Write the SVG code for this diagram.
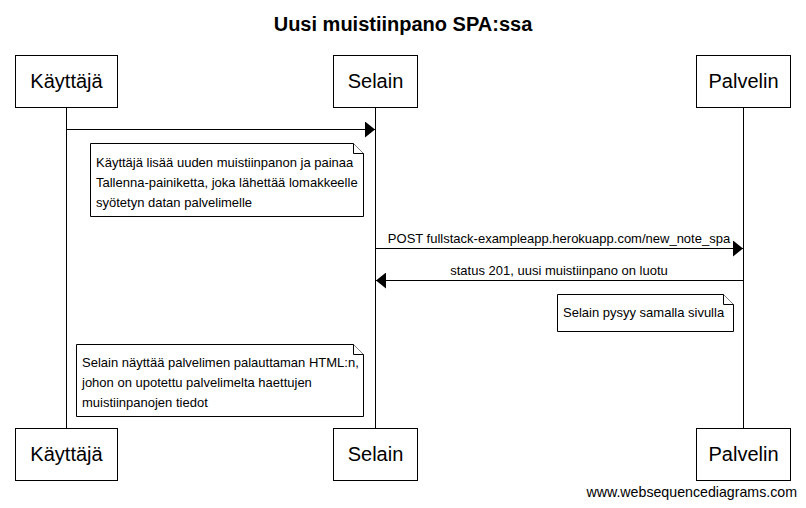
<svg xmlns="http://www.w3.org/2000/svg" width="806" height="508" viewBox="0 0 806 508">
<defs>
<style>
.box{fill:#fff;stroke:#000;stroke-width:1}
.life{stroke:#000;stroke-width:1}
.pt{font-family:"Liberation Sans",Arial,sans-serif;font-size:20px;fill:#000;text-anchor:middle}
.t{font-family:"Liberation Sans",Arial,sans-serif;font-size:13px;fill:#000}
.msg{stroke:#000;stroke-width:1;fill:none}
.note{fill:#fff;stroke:#000;stroke-width:1}
</style>
<marker id="ah" viewBox="0 0 10 16" refX="10" refY="8" markerWidth="10" markerHeight="16" markerUnits="userSpaceOnUse" orient="auto">
<path d="M0,0 L10,8 L0,16 Z" fill="#000"/>
</marker>
</defs>
<rect width="806" height="508" fill="#fff"/>
<text x="403" y="31" font-family="Liberation Sans,Arial,sans-serif" font-size="20" font-weight="bold" text-anchor="middle">Uusi muistiinpano SPA:ssa</text>
<g id="lifelines">
<line class="life" x1="66.5" y1="107" x2="66.5" y2="428"/>
<line class="life" x1="375.5" y1="107" x2="375.5" y2="428"/>
<line class="life" x1="743.5" y1="107" x2="743.5" y2="428"/>
</g>
<g id="kayttaja">
<rect class="box" x="15.5" y="55.5" width="102" height="52"/>
<text class="pt" x="66.5" y="88">Käyttäjä</text>
<rect class="box" x="15.5" y="428.5" width="102" height="52"/>
<text class="pt" x="66.5" y="461">Käyttäjä</text>
</g>
<g id="selain">
<rect class="box" x="333.5" y="55.5" width="84" height="52"/>
<text class="pt" x="375.5" y="88">Selain</text>
<rect class="box" x="333.5" y="428.5" width="84" height="52"/>
<text class="pt" x="375.5" y="461">Selain</text>
</g>
<g id="palvelin">
<rect class="box" x="696.5" y="55.5" width="94" height="52"/>
<text class="pt" x="743.5" y="88">Palvelin</text>
<rect class="box" x="696.5" y="428.5" width="94" height="52"/>
<text class="pt" x="743.5" y="461">Palvelin</text>
</g>
<g id="connectors">
<line class="msg" x1="66.5" y1="129.5" x2="375" y2="129.5" marker-end="url(#ah)"/>
<line class="msg" x1="375.5" y1="248.5" x2="743" y2="248.5" marker-end="url(#ah)"/>
<text class="t" x="559" y="243" text-anchor="middle">POST fullstack-exampleapp.herokuapp.com/new_note_spa</text>
<line class="msg" x1="743.5" y1="280.5" x2="376" y2="280.5" marker-end="url(#ah)"/>
<text class="t" x="559" y="275" text-anchor="middle">status 201, uusi muistiinpano on luotu</text>
</g>
<g id="note1">
<path class="note" d="M90.5,143.5 H353.5 L363.5,153.5 V216.5 H90.5 Z"/>
<path class="note" d="M353.5,143.5 V153.5 H363.5"/>
<text class="t" x="96" y="166.5">Käyttäjä lisää uuden muistiinpanon ja painaa</text>
<text class="t" x="96" y="186.5">Tallenna-painiketta, joka lähettää lomakkeelle</text>
<text class="t" x="96" y="206.5">syötetyn datan palvelimelle</text>
</g>
<g id="note2">
<path class="note" d="M557.5,294.5 H723.5 L733.5,304.5 V331.5 H557.5 Z"/>
<path class="note" d="M723.5,294.5 V304.5 H733.5"/>
<text class="t" x="563" y="317">Selain pysyy samalla sivulla</text>
</g>
<g id="note3">
<path class="note" d="M76.5,344.5 H353.5 L363.5,354.5 V416.5 H76.5 Z"/>
<path class="note" d="M353.5,344.5 V354.5 H363.5"/>
<text class="t" x="82" y="367">Selain näyttää palvelimen palauttaman HTML:n,</text>
<text class="t" x="82" y="387">johon on upotettu palvelimelta haettujen</text>
<text class="t" x="82" y="407">muistiinpanojen tiedot</text>
</g>
<text class="t" x="797" y="497" text-anchor="end" style="font-size:14.2px">www.websequencediagrams.com</text>
</svg>
